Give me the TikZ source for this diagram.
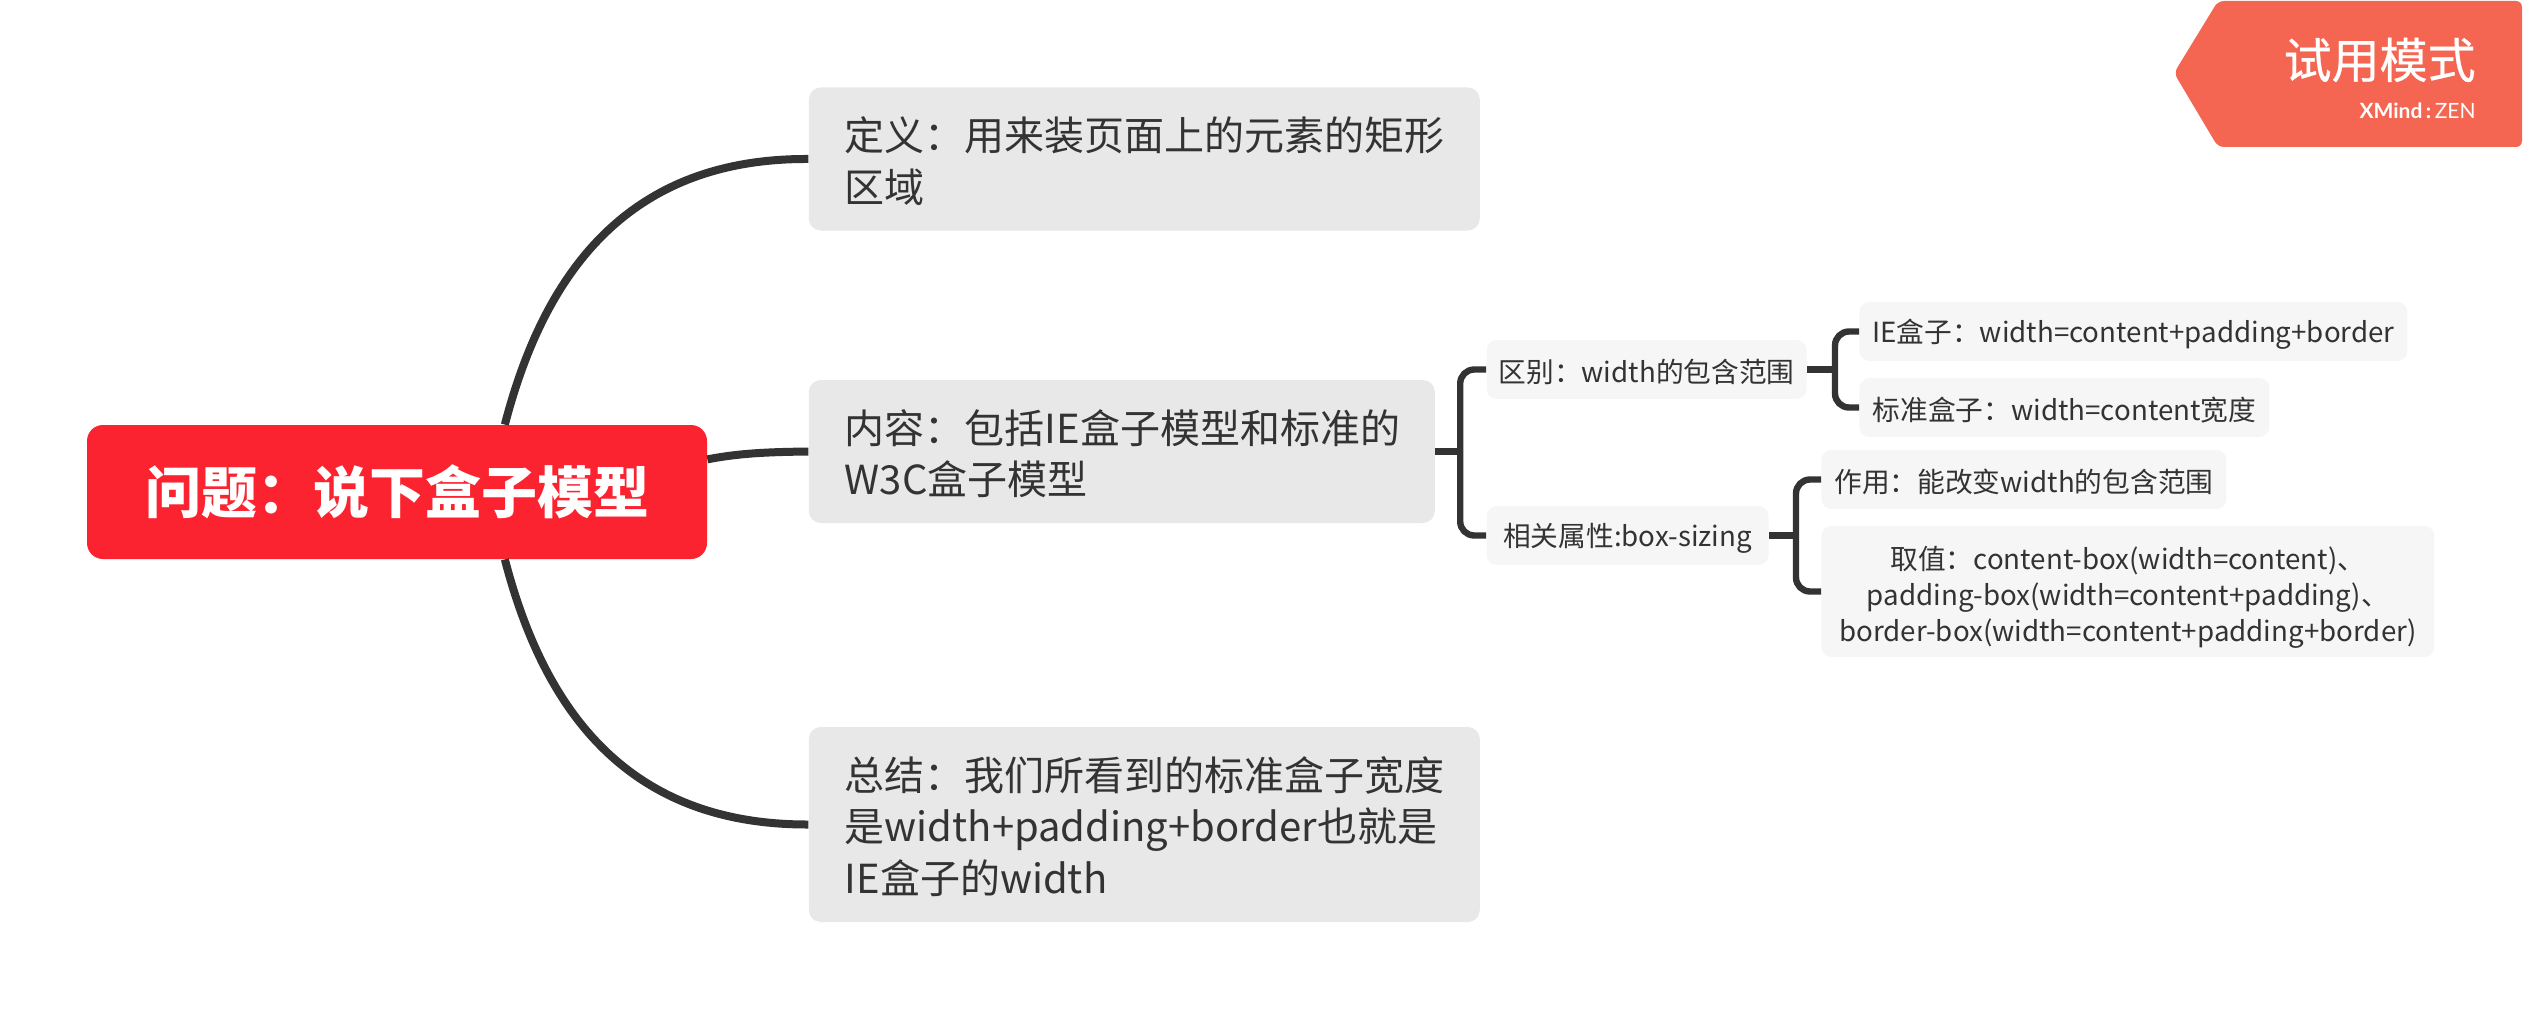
\documentclass[tikz,border=0pt]{standalone}
\usepackage{fontspec}
\setmainfont{Noto Sans CJK SC}
\newfontfamily\brandfont{Lato}
\usetikzlibrary{positioning}
\definecolor{rootred}{HTML}{FB2330}
\definecolor{tagred}{HTML}{F56652}
\definecolor{linegray}{HTML}{333333}
\definecolor{mainfill}{HTML}{E8E8E8}
\definecolor{subfill}{HTML}{F6F6F6}
\tikzset{
    roottopic/.style={rectangle, rounded corners=8pt, fill=rootred, text=white, font=\fontsize{28}{34}\selectfont\bfseries, minimum width=310pt, minimum height=67pt},
    maintopic/.style={rectangle, rounded corners=6pt, fill=mainfill, text=linegray, font=\fontsize{20}{25.75}\selectfont, align=flush left, inner xsep=0pt, inner ysep=0pt, execute at begin node={\hspace{18pt}\rule{0pt}{19pt}}},
    subtopic/.style={rectangle, rounded corners=5pt, fill=subfill, text=linegray, font=\fontsize{13.85}{18}\selectfont, inner xsep=0pt, inner ysep=0pt, minimum height=29.5pt, execute at begin node={\rule{0pt}{14pt}}},
    bigcurve/.style={draw=linegray, line width=4pt},
    branchline/.style={draw=linegray, line width=3.2pt, rounded corners=7pt}
}
\begin{document}
\begin{tikzpicture}[x=.5pt, y=-.5pt]
    \useasboundingbox (0,0) rectangle (2523,1011);

    \node [roottopic] (question) at (397,492) {问题：说下盒子模型};
    \node [maintopic, right=50.5pt of question, yshift=166.5pt, text width=335.5pt, minimum height=71.5pt] (definition) {定义：用来装页面上的元素的矩形\\\hspace*{18pt}区域};
    \node [maintopic, right=50.5pt of question, yshift=20.25pt, text width=313pt, minimum height=71.5pt] (content) {内容：包括IE盒子模型和标准的\\\hspace*{18pt}W3C盒子模型};
    \node [maintopic, right=50.5pt of question, yshift=-166.25pt, text width=335.5pt, minimum height=97.5pt] (summary) {总结：我们所看到的标准盒子宽度\\\hspace*{18pt}是width+padding+border也就是\\\hspace*{18pt}IE盒子的width};

    \node [subtopic, right=25.5pt of content, yshift=41pt, minimum width=160pt] (difference) {区别：width的包含范围};
    \node [subtopic, right=25.5pt of content, yshift=-42pt, minimum width=141pt] (property) {相关属性:box-sizing};
    \node [subtopic, right=26pt of difference, yshift=19pt, minimum width=274pt] (iebox) {IE盒子：width=content+padding+border};
    \node [subtopic, right=26pt of difference, yshift=-19pt, minimum width=205pt] (stdbox) {标准盒子：width=content宽度};
    \node [subtopic, right=26pt of property, yshift=28pt, minimum width=202.5pt] (effect) {作用：能改变width的包含范围};
    \node [subtopic, right=26pt of property, yshift=-28pt, minimum width=306.5pt, minimum height=65.5pt, align=center] (values) {\rule{0pt}{17.5pt}取值：content-box(width=content)、\\padding-box(width=content+padding)、\\border-box(width=content+padding+border)};

    \coordinate [right=12.5pt of content.east] (contentbus);
    \coordinate [right=14pt of difference.east] (diffbus);
    \coordinate [right=13.5pt of property.east] (propbus);

    \draw [bigcurve] (question.32) .. controls (545,270) and (630,158) .. (definition.west);
    \draw [bigcurve] (question.6.4) .. controls (740,453) and (770,452) .. (content.west);
    \draw [bigcurve] (question.-32) .. controls (545,714) and (630,825) .. (summary.west);

    \draw [branchline] (content.east) -- (contentbus);
    \draw [branchline] (difference.west) -| (contentbus) |- (property.west);
    \draw [branchline] (difference.east) -- (diffbus);
    \draw [branchline] (iebox.west) -| (diffbus) |- (stdbox.west);
    \draw [branchline] (property.east) -- (propbus);
    \draw [branchline] (effect.west) -| (propbus) |- (values.west);

    % trial tag
    \fill [tagred, rounded corners=3pt] (2174,73) -- (2218,1) -- (2522,1) -- (2522,147) -- (2218,147) -- cycle;
    \node [text=white, font=\fontsize{24}{28}\selectfont\addfontfeature{FakeBold=0.5}, anchor=east, inner sep=0pt] (tagmode) at (2476,60) {试用模式};
    \node [below=10pt of tagmode.south east, anchor=north east, text=white, font=\brandfont\fontsize{10.5}{12}\selectfont, inner sep=0pt] (tagbrand) {\textbf{XMind\,:}\,ZEN};
\end{tikzpicture}
\end{document}
